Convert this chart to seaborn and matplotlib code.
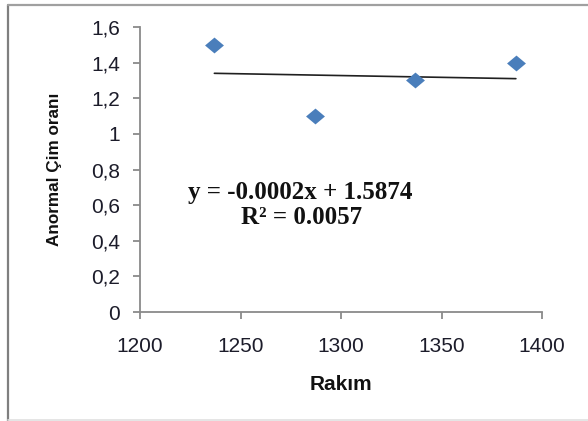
import numpy as np
import pandas as pd
import matplotlib
matplotlib.use("Agg")
import matplotlib.pyplot as plt
from matplotlib.lines import Line2D
from matplotlib.ticker import FuncFormatter
import seaborn as sns

# Data
rakim = [1237, 1287, 1337, 1387]
anormal = [1.5, 1.1, 1.3, 1.4]
x_ticks = [1200, 1250, 1300, 1350, 1400]
y_ticks = [0, 0.2, 0.4, 0.6, 0.8, 1.0, 1.2, 1.4, 1.6]
x_label = "Rakım"
y_label = "Anormal Çim oranı"
eq_line1 = "y = -0.0002x + 1.5874"
eq_line2 = "R² = 0.0057"

df = pd.DataFrame({"Rakım": rakim, "Anormal": anormal})

sns.set_style("white")
plt.rcParams["font.family"] = ["Liberation Sans", "DejaVu Sans"]

fig = plt.figure(figsize=(5.88, 4.21), dpi=100)
ax = fig.add_axes([140/588, 1-312/421, 402/588, 285/421])

diamond = [(-1, 0), (0, 0.84), (1, 0), (0, -0.84), (-1, 0)]

sns.regplot(data=df, x="Rakım", y="Anormal", ax=ax, scatter=False, ci=None,
            color="#202020", line_kws={"linewidth": 1.2}, truncate=True)
sns.scatterplot(data=df, x="Rakım", y="Anormal", ax=ax, marker=diamond, s=185,
                color="#4A7EBB", edgecolor="#4A7EBB", linewidth=0, zorder=3)

ax.set_xlim(1200, 1400)
ax.set_ylim(0, 1.6)
ax.set_xticks(x_ticks)
ax.set_yticks(y_ticks)
ax.yaxis.set_major_formatter(FuncFormatter(lambda v, p: ("%g" % round(v, 1)).replace(".", ",")))

for s in ["top", "right"]:
    ax.spines[s].set_visible(False)
for s in ["left", "bottom"]:
    ax.spines[s].set_color("#8a8a8a")
    ax.spines[s].set_linewidth(1.3)

ax.tick_params(axis="both", which="major", direction="out", length=5, width=1.3,
               color="#8a8a8a", labelcolor="#1c1c2a", labelsize=15,
               bottom=True, left=True)
ax.tick_params(axis="y", pad=9.4)
ax.tick_params(axis="x", pad=13)

ax.set_xlabel(x_label, fontsize=15, fontweight="bold", color="#111111", labelpad=14)
ax.set_ylabel(y_label, fontsize=12.3, fontweight="bold", color="#111111", labelpad=21)

serif = ["Liberation Serif", "DejaVu Serif"]
ax.text(300/588, 1-193/421, eq_line1, transform=fig.transFigure, ha="center", va="center",
        fontsize=18, fontweight="bold", family=serif, color="#111111")
ax.text(302/588, 1-218/421, eq_line2, transform=fig.transFigure, ha="center", va="center",
        fontsize=18, fontweight="bold", family=serif, color="#111111")

# Outer chart frame
fig.add_artist(Line2D([7.5/588, 7.5/588], [0, 1-5/421], transform=fig.transFigure,
                      color="#7f7f7f", linewidth=1.6))
fig.add_artist(Line2D([7.5/588, 1], [1-5/421, 1-5/421], transform=fig.transFigure,
                      color="#a0a0a0", linewidth=1.6))
fig.add_artist(Line2D([7.5/588, 1], [1-420/421, 1-420/421], transform=fig.transFigure,
                      color="#e0e0e0", linewidth=1.2))

fig.savefig("out.png", dpi=100)
